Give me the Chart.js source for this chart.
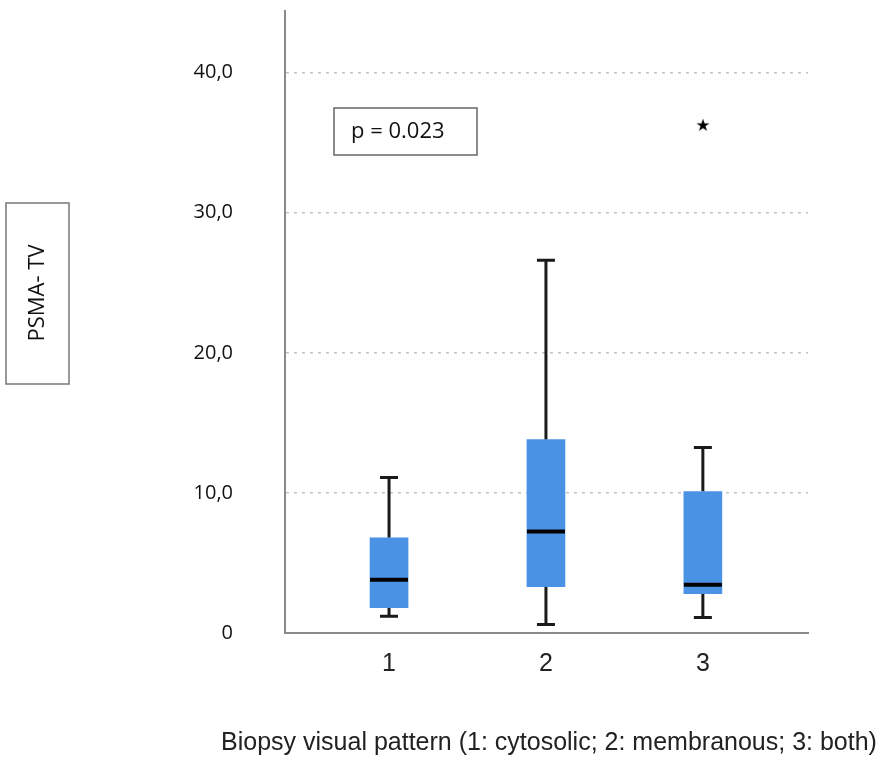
<!DOCTYPE html>
<html>
<head>
<meta charset="utf-8">
<script src="https://cdn.jsdelivr.net/npm/chart.js@4.4.1/dist/chart.umd.min.js"></script>
<style>
  html, body { margin: 0; padding: 0; background: #fff; }
  #wrap { width: 886px; height: 764px; position: relative; }
</style>
</head>
<body>
<div id="wrap"><canvas id="boxChart"></canvas></div>
<script>
// groups on the x axis and the box plot values
const groups = [1, 2, 3]
const whiskerLow = [1.2, 0.6, 1.1]
const q1 = [1.8, 3.3, 2.8]
const median = [3.8, 7.25, 3.45]
const q3 = [6.8, 13.8, 10.1]
const whiskerHigh = [11.1, 26.6, 13.25]
const outlierX = [3]
const outlierY = [36.2]
const yTicks = [0, 10, 20, 30, 40]

const xTitle = 'Biopsy visual pattern (1: cytosolic; 2: membranous; 3: both)'
const yTitle = 'PSMA- TV'
const pText = 'p = 0.023'

// filled star used as the outlier marker
function starMarker() {
  const c = document.createElement('canvas')
  c.width = 20; c.height = 20
  const g = c.getContext('2d')
  g.fillStyle = '#000'
  g.font = '17px "DejaVu Sans"'
  g.textAlign = 'center'
  g.textBaseline = 'middle'
  g.fillText('\u2605', 10, 10.5)
  return c
}

// whiskers, caps and medians, drawn through the chart scales
const whiskerPlugin = {
  id: 'whiskers',
  beforeDatasetsDraw(chart) {
    const ctx = chart.ctx
    const xs = chart.scales.x, ys = chart.scales.y
    ctx.save()
    ctx.strokeStyle = '#1a1a1a'
    ctx.lineWidth = 3
    groups.forEach((g, i) => {
      const x = xs.getPixelForValue(g)
      ctx.beginPath()
      ctx.moveTo(x, ys.getPixelForValue(whiskerHigh[i]))
      ctx.lineTo(x, ys.getPixelForValue(q3[i]))
      ctx.moveTo(x, ys.getPixelForValue(q1[i]))
      ctx.lineTo(x, ys.getPixelForValue(whiskerLow[i]))
      ctx.moveTo(x - 9, ys.getPixelForValue(whiskerHigh[i]))
      ctx.lineTo(x + 9, ys.getPixelForValue(whiskerHigh[i]))
      ctx.moveTo(x - 9, ys.getPixelForValue(whiskerLow[i]))
      ctx.lineTo(x + 9, ys.getPixelForValue(whiskerLow[i]))
      ctx.stroke()
    })
    ctx.restore()
  },
  afterDatasetsDraw(chart) {
    const ctx = chart.ctx
    const xs = chart.scales.x, ys = chart.scales.y
    ctx.save()
    ctx.strokeStyle = '#000'
    ctx.lineWidth = 4
    groups.forEach((g, i) => {
      const x = xs.getPixelForValue(g)
      const y = ys.getPixelForValue(median[i])
      ctx.beginPath()
      ctx.moveTo(x - 19, y)
      ctx.lineTo(x + 19, y)
      ctx.stroke()
    })
    ctx.restore()
  },
  afterDraw(chart) {
    const ctx = chart.ctx
    ctx.save()
    // y axis title in its box
    ctx.strokeStyle = '#777'
    ctx.lineWidth = 1.5
    ctx.strokeRect(6, 203, 63, 181)
    ctx.translate(38, 293)
    ctx.rotate(-Math.PI / 2)
    ctx.fillStyle = '#111'
    ctx.font = '22px "Open Sans"'
    ctx.textAlign = 'center'
    ctx.textBaseline = 'middle'
    ctx.fillText(yTitle, 0, 0)
    ctx.restore()

    // p value box
    ctx.save()
    ctx.strokeStyle = '#666'
    ctx.lineWidth = 1.5
    ctx.strokeRect(334, 108, 143, 47)
    ctx.fillStyle = '#111'
    ctx.font = '22px "Open Sans"'
    ctx.textBaseline = 'middle'
    ctx.fillText(pText, 351, 132)
    ctx.restore()

    // x axis title, wider than the plot so drawn here
    ctx.save()
    ctx.fillStyle = '#222'
    ctx.font = '25px "Liberation Sans", Arial'
    ctx.textAlign = 'center'
    ctx.textBaseline = 'alphabetic'
    ctx.fillText(xTitle, 549, 750)
    ctx.restore()
  }
}

const data = {
  datasets: [{
    type: 'bar',
    label: 'box',
    data: groups.map((g, i) => ({ x: g, y: [q1[i], q3[i]] })),
    backgroundColor: '#4a93e4',
    borderWidth: 0,
    barThickness: 38
  }, {
    type: 'scatter',
    label: 'outlier',
    data: outlierX.map((x, i) => ({ x: x, y: outlierY[i] })),
    pointStyle: starMarker(),
    pointRadius: 10
  }]
}

const config = {
  type: 'bar',
  data: data,
  options: {
    responsive: true,
    maintainAspectRatio: false,
    animation: false,
    layout: { padding: { top: 10, right: 78, bottom: 0, left: 0 } },
    plugins: {
      legend: { display: false },
      tooltip: { enabled: false }
    },
    scales: {
      x: {
        type: 'linear',
        min: 0.337,
        max: 3.67,
        bounds: 'data',
        offset: false,
        afterBuildTicks: (scale) => { scale.ticks = groups.map(v => ({ value: v })) },
        afterFit: (scale) => { scale.height = 131; scale.paddingLeft = 0; scale.paddingRight = 0 },
        grid: { display: false, drawTicks: false },
        border: { color: '#8a8a8a', width: 2 },
        ticks: {
          padding: 16,
          color: '#222',
          font: { family: '"Liberation Sans", Arial', size: 25 }
        }
      },
      y: {
        min: 0,
        max: 44.4,
        bounds: 'data',
        afterBuildTicks: (scale) => { scale.ticks = yTicks.map(v => ({ value: v })) },
        afterFit: (scale) => { scale.width = 285; scale.paddingTop = 0; scale.paddingBottom = 0 },
        grid: {
          drawTicks: false,
          color: (c) => c.tick && c.tick.value === 0 ? 'rgba(0,0,0,0)' : '#c4c4c4',
          lineWidth: 1.5
        },
        border: { color: '#8a8a8a', width: 2, dash: [3, 5] },
        ticks: {
          padding: 52,
          color: '#111',
          font: { family: '"Open Sans"', size: 20 },
          callback: (v) => v === 0 ? '0' : v.toFixed(1).replace('.', ',')
        }
      }
    }
  },
  plugins: [whiskerPlugin]
}

const ctx = document.getElementById('boxChart').getContext('2d')
new Chart(ctx, config)
</script>
</body>
</html>
